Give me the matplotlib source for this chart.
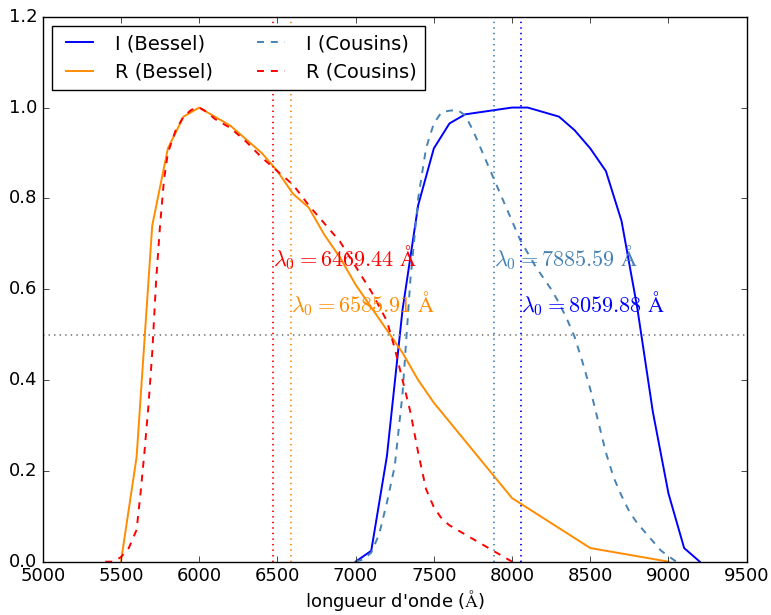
import matplotlib
matplotlib.use("Agg")
import matplotlib.pyplot as plt

plt.style.use("classic")
plt.rcParams["mathtext.fontset"] = "cm"

# Bessel filters
lam_I_bessel = [7000, 7100, 7200, 7300, 7400, 7500, 7600, 7700, 7800, 7900, 8000, 8100,
                8200, 8300, 8400, 8500, 8600, 8700, 8800, 8900, 9000, 9100, 9200]
T_I_bessel = [0.0, 0.024, 0.232, 0.555, 0.785, 0.910, 0.965, 0.985, 0.990, 0.995, 1.000, 1.000,
              0.990, 0.980, 0.950, 0.910, 0.860, 0.750, 0.560, 0.330, 0.150, 0.030, 0.0]

lam_R_bessel = [5500, 5600, 5700, 5800, 5900, 6000, 6100, 6200, 6300, 6400, 6500, 6600,
                6700, 6800, 6900, 7000, 7100, 7200, 7300, 7400, 7500, 8000, 8500, 9000]
T_R_bessel = [0.0, 0.23, 0.74, 0.91, 0.98, 1.0, 0.98, 0.96, 0.93, 0.90, 0.86, 0.81,
              0.78, 0.72, 0.67, 0.61, 0.56, 0.51, 0.46, 0.40, 0.35, 0.14, 0.03, 0.0]

# Cousins filters
lam_I_cousins = [7000, 7050, 7100, 7150, 7200, 7250, 7300, 7350, 7400, 7450, 7500, 7550,
                 7600, 7650, 7700, 7750, 7800, 7850, 7900, 7950, 8000, 8050, 8100, 8150,
                 8200, 8250, 8300, 8350, 8400, 8450, 8500, 8550, 8600, 8650, 8700, 8750,
                 8800, 8850, 8900, 8950, 9000, 9050]
T_I_cousins = [0.0, 0.005, 0.02, 0.06, 0.13, 0.21, 0.37, 0.62, 0.80, 0.91, 0.965, 0.99,
               0.993, 0.995, 0.983, 0.95, 0.91, 0.87, 0.83, 0.79, 0.75, 0.71, 0.68, 0.65,
               0.625, 0.60, 0.57, 0.535, 0.495, 0.44, 0.38, 0.31, 0.24, 0.185, 0.145, 0.11,
               0.085, 0.065, 0.045, 0.025, 0.012, 0.0]

lam_R_cousins = [5400, 5450, 5500, 5550, 5600, 5625, 5650, 5675, 5700, 5725, 5750, 5775,
                 5800, 5850, 5900, 5950, 6000, 6050, 6100, 6200, 6300, 6400, 6500, 6600,
                 6700, 6800, 6900, 7000, 7100, 7200, 7250, 7300, 7350, 7400, 7450, 7500,
                 7550, 7600, 7700, 7800, 7900, 8000]
T_R_cousins = [0.0, 0.0, 0.01, 0.03, 0.07, 0.15, 0.24, 0.34, 0.46, 0.62, 0.74, 0.84,
               0.90, 0.95, 0.98, 0.995, 1.0, 0.99, 0.975, 0.955, 0.925, 0.89, 0.86, 0.83,
               0.785, 0.745, 0.705, 0.65, 0.595, 0.53, 0.47, 0.40, 0.33, 0.24, 0.16, 0.12,
               0.095, 0.08, 0.06, 0.04, 0.02, 0.0]

# effective wavelengths
lam0 = [8059.88, 6585.91, 7885.59, 6469.44]
lam0_y = [0.55, 0.55, 0.65, 0.65]
colors = ["b", "darkorange", "steelblue", "r"]

fig = plt.figure(figsize=(7.71, 6.15), dpi=100, facecolor="white")
ax = fig.add_axes([0.0554, 0.0867, 0.9131, 0.8861])

lw = 1.4
ax.plot(lam_I_bessel, T_I_bessel, "-", color=colors[0], lw=lw, label="I (Bessel)")
ax.plot(lam_R_bessel, T_R_bessel, "-", color=colors[1], lw=lw, label="R (Bessel)")
ax.plot(lam_I_cousins, T_I_cousins, "--", color=colors[2], lw=lw, dashes=(5, 5),
        label="I (Cousins)")
ax.plot(lam_R_cousins, T_R_cousins, "--", color=colors[3], lw=lw, dashes=(5, 5),
        label="R (Cousins)")

for l, y, c in zip(lam0, lam0_y, colors):
    ax.axvline(l, color=c, linestyle=":", lw=1.3)
    ax.text(l, y, r"$\lambda_0=%.2f\ \mathrm{\AA}$" % l, color=c, fontsize=16)

ax.axhline(0.5, color="gray", linestyle=":", lw=1.3)

ax.set_xlim(5000, 9500)
ax.set_ylim(0, 1.2)
ax.tick_params(labelsize=13)
ax.set_xlabel(r"longueur d'onde ($\mathrm{\AA}$)", fontsize=13, labelpad=2)
ax.legend(loc="upper left", ncol=2, fontsize=14)

fig.savefig("out.png", dpi=100, facecolor="white")
